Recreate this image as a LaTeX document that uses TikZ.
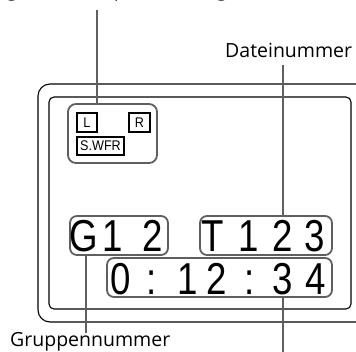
\documentclass[tikz,border=0pt]{standalone}
\usepackage{fontspec}
\setmainfont{Open Sans}
\newfontfamily\lcdfont[FakeStretch=0.82]{Liberation Sans}
\newfontfamily\tagfont[FakeStretch=0.9]{Liberation Sans}
\usepackage{tikz}
\definecolor{leadgray}{RGB}{95, 95, 95}

\begin{document}
\begin{tikzpicture}[x=1pt, y=-1pt,
    lcdbox/.style={draw=leadgray, line width=1.8pt, rounded corners=7pt, inner sep=0pt},
    tagbox/.style={draw=black, line width=1.1pt, inner sep=0pt,
                   font=\tagfont\fontsize{14}{14}\selectfont},
    digit/.style={anchor=base, inner sep=0pt, font=\lcdfont\fontsize{44.7}{44.7}\selectfont},
    leader/.style={draw=leadgray, line width=1.8pt},
    label_font/.style={font=\fontsize{19.5}{22}\selectfont, inner sep=0pt, anchor=base west}
  ]
    \useasboundingbox (0,0) rectangle (356,352);
    \clip (0,0) rectangle (356,352);

    % display frame
    \draw[line width=1.1pt, rounded corners=12pt] (38,84) rectangle (372,322);
    \draw[line width=1.1pt, rounded corners=5pt] (49,97) rectangle (351,309);

    % channel indicator
    \node[lcdbox, rounded corners=8pt, minimum width=89pt, minimum height=59pt] (chan) at (112.5,133.5) {};
    \node[tagbox, minimum width=20pt, minimum height=19pt] (chl) at (87,122.5) {L};
    \node[tagbox, minimum width=21pt, minimum height=19pt] (chr) at (139.5,122.5) {R};
    \node[tagbox, minimum width=47pt, minimum height=18pt] (swfr) at (100.5,146) {S.WFR};

    % segments
    \node[lcdbox, minimum width=98pt, minimum height=39pt] (grp) at (119,235.5) {};
    \node[lcdbox, minimum width=132pt, minimum height=39pt] (trk) at (266,235.5) {};
    \node[lcdbox, minimum width=225pt, minimum height=39pt] (tim) at (219.5,277.5) {};

    \foreach \cx/\ch [count=\i] in {84/G, 113/1, 153/2, 213/T, 249/1, 283/2, 315/3}
      \node[digit] (top\i) at (\cx,252) {\ch};
    \foreach \cx/\ch [count=\i] in {121/0, 152/:, 188/1, 217/2, 250/:, 283/3, 316/4}
      \node[digit] (bot\i) at (\cx,295) {\ch};

    % labels
    \node[label_font] (chantxt) at (-43,-3) {Anzeige für Lautsprecherausgabe (};
    \node[label_font] (filetxt) at (225,58) {Dateinummer};
    \node[label_font] (grptxt) at (10,347) {Gruppennummer};

    \coordinate (chanend) at (97,10);
    \coordinate (fileend) at (283,65);
    \coordinate (grpend) at (86,333);
    \coordinate (timend) at (283,353);

    \draw[leader] (chanend) -- (chanend |- chan.north);
    \draw[leader] (fileend) -- (fileend |- trk.north);
    \draw[leader] (grp.south -| grpend) -- (grpend);
    \draw[leader] (tim.south -| timend) -- (timend);
  \end{tikzpicture}
\end{document}
